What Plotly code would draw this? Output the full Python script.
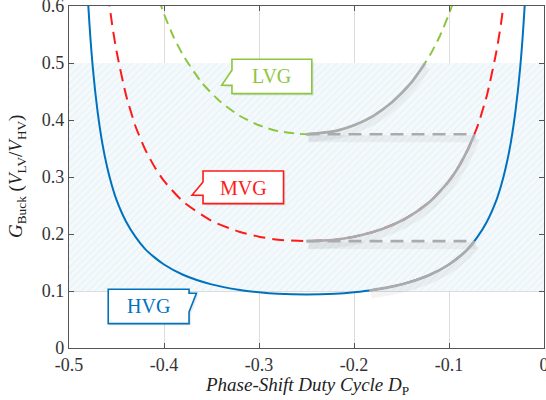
import plotly.graph_objects as go

# ---------------- data ----------------
hvg_d = [-0.485, -0.48, -0.475, -0.47, -0.465, -0.46, -0.455, -0.45, -0.44, -0.43, -0.42, -0.41,
         -0.40, -0.38, -0.35, -0.32, -0.30, -0.28, -0.25, -0.22, -0.20, -0.18, -0.15, -0.12,
         -0.10, -0.09, -0.08, -0.07, -0.06, -0.05, -0.045, -0.04, -0.035, -0.03, -0.025, -0.02, -0.015]
hvg_g = [0.805, 0.610, 0.493, 0.416, 0.360, 0.3185, 0.286, 0.260, 0.222, 0.195, 0.174, 0.159,
         0.1465, 0.1285, 0.1116, 0.1017, 0.0977, 0.0951, 0.0938, 0.0951, 0.0977, 0.1017, 0.1116, 0.1285,
         0.1465, 0.159, 0.174, 0.195, 0.222, 0.260, 0.286, 0.3185, 0.360, 0.416, 0.493, 0.610, 0.805]

mvg_d = [-0.465, -0.46, -0.455, -0.45, -0.44, -0.43, -0.42, -0.41, -0.40, -0.38, -0.35, -0.32,
         -0.30, -0.28, -0.25, -0.22, -0.20, -0.18, -0.15, -0.12, -0.10, -0.09, -0.08, -0.07,
         -0.06, -0.05, -0.045, -0.04, -0.035]
mvg_g = [0.720, 0.637, 0.572, 0.521, 0.444, 0.389, 0.349, 0.318, 0.293, 0.257, 0.223, 0.2035,
         0.1953, 0.190, 0.1875, 0.190, 0.1953, 0.2035, 0.223, 0.257, 0.293, 0.318, 0.349, 0.389,
         0.444, 0.521, 0.572, 0.637, 0.720]

lvg_d = [-0.415, -0.41, -0.40, -0.39, -0.38, -0.36, -0.34, -0.32, -0.30, -0.28, -0.25,
         -0.22, -0.20, -0.18, -0.16, -0.14, -0.12, -0.11, -0.10, -0.09, -0.085]
lvg_g = [0.665, 0.635, 0.586, 0.546, 0.514, 0.465, 0.431, 0.407, 0.3907, 0.3805, 0.375,
         0.3805, 0.3907, 0.407, 0.431, 0.465, 0.514, 0.546, 0.586, 0.635, 0.665]

# highlighted (grey) operating segments
hvg_hi_d = [-0.184, -0.16, -0.14, -0.12, -0.10, -0.09, -0.08, -0.0732]
hvg_hi_g = [0.1008, 0.1077, 0.1163, 0.1285, 0.1465, 0.159, 0.174, 0.1875]
mvg_hi_d = [-0.25, -0.22, -0.20, -0.18, -0.16, -0.14, -0.12, -0.10, -0.09, -0.08, -0.0732]
mvg_hi_g = [0.1875, 0.190, 0.1953, 0.2035, 0.2154, 0.2325, 0.257, 0.293, 0.3176, 0.349, 0.375]
lvg_hi_d = [-0.25, -0.22, -0.20, -0.18, -0.16, -0.14, -0.125]
lvg_hi_g = [0.375, 0.3805, 0.3907, 0.407, 0.431, 0.465, 0.500]

# horizontal transition lines
trans_d = [-0.25, -0.0732]
trans_levels = [0.1875, 0.375]

band_range = [0.1, 0.5]
x_range = [-0.5, 0.0]
y_range = [0.0, 0.6]
x_ticks = [-0.5, -0.4, -0.3, -0.2, -0.1, 0.0]
x_ticklabels = ["-0.5", "-0.4", "-0.3", "-0.2", "-0.1", "0"]
y_ticks = [0, 0.1, 0.2, 0.3, 0.4, 0.5, 0.6]
y_ticklabels = ["0", "0.1", "0.2", "0.3", "0.4", "0.5", "0.6"]

BLUE = "#0072BD"
RED = "#FF1A1A"
GREEN = "#8CC63F"
GREY = "#ABABAE"
FONT = "Liberation Serif, Times New Roman, serif"

fig = go.Figure()

# shaded band with fine hatch
fig.add_trace(go.Scatter(
    x=[x_range[0], x_range[1], x_range[1], x_range[0], x_range[0]],
    y=[band_range[0], band_range[0], band_range[1], band_range[1], band_range[0]],
    mode="lines", line=dict(width=0), fill="toself",
    fillcolor="#F2F8FB",
    fillpattern=dict(shape="/", size=5, solidity=0.25, fgcolor="#DCEBF2", bgcolor="#F4F9FC"),
    hoverinfo="skip", showlegend=False))

# main curves
fig.add_trace(go.Scatter(x=hvg_d, y=hvg_g, mode="lines", line=dict(color=BLUE, width=2, shape="spline", smoothing=0.6), showlegend=False))
fig.add_trace(go.Scatter(x=mvg_d, y=mvg_g, mode="lines", line=dict(color=RED, width=2, dash="12px,7px", shape="spline", smoothing=0.6), showlegend=False))
fig.add_trace(go.Scatter(x=lvg_d, y=lvg_g, mode="lines", line=dict(color=GREEN, width=2, dash="10px,6px", shape="spline", smoothing=0.6), showlegend=False))

# soft shadows of grey highlights
for dd, gg in [(hvg_hi_d, hvg_hi_g), (mvg_hi_d, mvg_hi_g), (lvg_hi_d, lvg_hi_g)]:
    fig.add_trace(go.Scatter(x=[d + 0.002 for d in dd], y=[g - 0.008 for g in gg], mode="lines",
                             line=dict(color="rgba(0,0,0,0.045)", width=7, shape="spline", smoothing=0.6),
                             hoverinfo="skip", showlegend=False))
for lvl in trans_levels:
    fig.add_trace(go.Scatter(x=[d + 0.002 for d in trans_d], y=[lvl - 0.008] * 2, mode="lines",
                             line=dict(color="rgba(0,0,0,0.045)", width=7),
                             hoverinfo="skip", showlegend=False))

# grey highlights
for dd, gg in [(hvg_hi_d, hvg_hi_g), (mvg_hi_d, mvg_hi_g), (lvg_hi_d, lvg_hi_g)]:
    fig.add_trace(go.Scatter(x=dd, y=gg, mode="lines",
                             line=dict(color=GREY, width=2.6, shape="spline", smoothing=0.6),
                             showlegend=False))
for lvl in trans_levels:
    fig.add_trace(go.Scatter(x=trans_d, y=[lvl] * 2, mode="lines",
                             line=dict(color=GREY, width=2.6, dash="13px,8px"), showlegend=False))

# callouts: pixel geometry converted to data coordinates
def px2x(p):
    return -0.5 + (p - 69) / 952.0

def py2y(p):
    return (347.7 - p) / 570.0

def mkpath(pts):
    return "M " + " L ".join(f"{px2x(a):.5f},{py2y(b):.5f}" for a, b in pts) + " Z"

lvg_box = [(232.3, 59), (312.3, 59), (312.3, 93.3), (232.3, 93.3), (232.3, 85), (222, 85), (232.3, 70)]
mvg_box = [(203.3, 170.7), (284, 170.7), (284, 203.3), (203.3, 203.3), (203.3, 195), (192.3, 195), (203.3, 181.7)]
hvg_box = [(108.3, 289), (189.3, 289), (189.3, 293), (196.7, 293), (189.3, 311.7), (189.3, 323.3), (108.3, 323.3)]

for box in (lvg_box, mvg_box, hvg_box):
    sh = [(a + 2, b + 2) for a, b in box]
    fig.add_shape(type="path", path=mkpath(sh), xref="x", yref="y", layer="above",
                  fillcolor="rgba(0,0,0,0.08)", line=dict(width=0))

for box, color, text, tx, ty in [(lvg_box, GREEN, "LVG", 272, 76),
                                 (mvg_box, RED, "MVG", 243.5, 187.5),
                                 (hvg_box, BLUE, "HVG", 148.5, 306)]:
    fig.add_shape(type="path", path=mkpath(box), xref="x", yref="y", layer="above",
                  fillcolor="white", line=dict(color=color, width=1.6))
    fig.add_annotation(x=px2x(tx), y=py2y(ty), xref="x", yref="y", text=text, showarrow=False,
                       font=dict(family=FONT, size=20, color=color))

axis_common = dict(showline=True, linecolor="#555555", linewidth=1.4, mirror="ticks",
                   ticks="inside", ticklen=5, tickcolor="#555555", tickwidth=1,
                   showgrid=True, gridcolor="#DCDCDC", gridwidth=1, zeroline=False,
                   automargin=False, ticklabeloverflow="allow",
                   tickfont=dict(family=FONT, size=18, color="#333333"))

fig.update_xaxes(range=x_range, tickvals=x_ticks, ticktext=x_ticklabels, **axis_common)
fig.update_yaxes(range=y_range, tickvals=y_ticks, ticktext=y_ticklabels, **axis_common)

# axis titles as annotations
fig.add_annotation(xref="paper", yref="paper", x=0.5, y=0, yshift=-24, yanchor="top",
                   text="<i>Phase-Shift Duty Cycle D</i><sub>P</sub>", showarrow=False,
                   font=dict(family=FONT, size=19, color="#222222"))
fig.add_annotation(xref="paper", yref="paper", x=0, y=0.5, xshift=-52, xanchor="center",
                   textangle=-90,
                   text="<i>G</i><sub>Buck</sub> (<i>V</i><sub>LV</sub>/<i>V</i><sub>HV</sub>)",
                   showarrow=False, font=dict(family=FONT, size=19, color="#222222"))

fig.update_layout(width=546, height=400, margin=dict(l=69, r=2, t=6, b=52, autoexpand=False),
                  plot_bgcolor="white", paper_bgcolor="white", showlegend=False)

fig.write_html("out.html", config={"displayModeBar": False},
               post_script="document.body.style.margin='0';document.body.style.padding='0';"
                           "document.documentElement.style.overflow='hidden';")
